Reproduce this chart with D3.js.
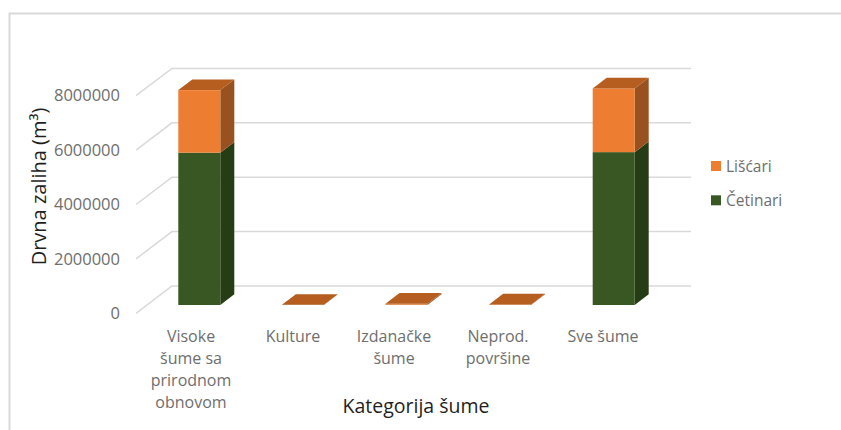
<!DOCTYPE html>
<html>
<head>
<meta charset="utf-8">
<script src="https://cdn.jsdelivr.net/npm/d3@7"></script>
<style>
  html, body { margin: 0; padding: 0; background: #fff; }
  text { font-family: "Open Sans", "Noto Sans", sans-serif; }
</style>
</head>
<body>
<div id="chart"></div>
<script>
const categories = ["Visoke šume sa prirodnom obnovom", "Kulture", "Izdanačke šume", "Neprod. površine", "Sve šume"];
const categoryLines = [["Visoke", "šume sa", "prirodnom", "obnovom"], ["Kulture"], ["Izdanačke", "šume"], ["Neprod.", "površine"], ["Sve šume"]];
const cetinari = [5600000, 5000, 10000, 2000, 5620000];
const liscari = [2300000, 1000, 40000, 18000, 2340000];
const yTicks = [0, 2000000, 4000000, 6000000, 8000000];
const seriesNames = ["Četinari", "Lišćari"];

const width = 841, height = 430;

const rows = categories.map((c, i) => ({ category: c, "Četinari": cetinari[i], "Lišćari": liscari[i] }));
const stacked = d3.stack().keys(seriesNames)(rows);

const front = { "Četinari": "#385723", "Lišćari": "#ED7D31" };
const side = { "Četinari": "#263C14", "Lišćari": "#9A5120" };
const top_face = { "Četinari": "#2F4A1D", "Lišćari": "#B55E20" };

const svg = d3.select("#chart").append("svg")
  .attr("width", width)
  .attr("height", height)
  .style("display", "block");

// frame (only top and left show in the picture)
svg.append("path")
  .attr("d", "M9.5,430V13.5H841")
  .attr("fill", "none")
  .attr("stroke", "#d9d9d9")
  .attr("stroke-width", 2);

const x = d3.scaleBand().domain(categories).range([178.3, 634.7]).paddingInner(0.5946).paddingOuter(0);
const y = d3.scaleLinear().domain([0, 8000000]).range([305, 87.4]);

// 3d offsets
const depthX = 14, depthY = 10.7;

// back wall gridlines + floor diagonals
const grid = svg.append("g").attr("fill", "none").attr("stroke", "#d9d9d9").attr("stroke-width", 1.5);
grid.selectAll("path")
  .data(yTicks)
  .join("path")
  .attr("d", d => `M136,${y(d) + 8.3}L172,${y(d) - 19}H691`);

// y axis labels sit at the front end of the diagonals
const yAxis = svg.append("g")
  .attr("transform", "translate(120,8.3)")
  .call(d3.axisLeft(y).tickValues(yTicks).tickFormat(d3.format("d")).tickSize(0).tickPadding(0));
yAxis.select(".domain").remove();
yAxis.selectAll("text").attr("fill", "#6e6e6e").style("font-size", "16.5px");

// bars
const bars = svg.append("g");
stacked.forEach(s => {
  const g = bars.append("g");
  // side
  g.selectAll(".side")
    .data(s)
    .join("path")
    .attr("fill", side[s.key])
    .attr("d", d => {
      const r = x(d.data.category) + x.bandwidth();
      return `M${r},${y(d[0])}L${r + depthX},${y(d[0]) - depthY}V${y(d[1]) - depthY}L${r},${y(d[1])}Z`;
    });
  // front
  g.selectAll(".front")
    .data(s)
    .join("rect")
    .attr("fill", front[s.key])
    .attr("x", d => x(d.data.category))
    .attr("y", d => y(d[1]))
    .attr("width", x.bandwidth())
    .attr("height", d => y(d[0]) - y(d[1]));
});

// top face only for the upper series
bars.append("g").selectAll("path")
  .data(stacked[1])
  .join("path")
  .attr("fill", top_face["Lišćari"])
  .attr("d", d => {
    const l = x(d.data.category), t = y(d[1]);
    return `M${l},${t}L${l + depthX},${t - depthY}H${l + x.bandwidth() + depthX}L${l + x.bandwidth()},${t}Z`;
  });

// category labels, nudged a little where the perspective moved them
const labelX = d3.scalePoint().domain(categories).range([191, 603]);
const labelNudge = [0, -1, -3, -2, 0];
const labels = svg.append("g").attr("text-anchor", "middle").attr("fill", "#6e6e6e").style("font-size", "16px");
labels.selectAll("text")
  .data(categories)
  .join("text")
  .attr("transform", (d, i) => `translate(${labelX(d) + labelNudge[i]},342)`)
  .each(function(d, i) {
    d3.select(this).selectAll("tspan")
      .data(categoryLines[i])
      .join("tspan")
      .attr("x", 0)
      .attr("y", (t, j) => j * 22)
      .text(t => t);
  });

// axis titles
svg.append("text")
  .attr("x", 416)
  .attr("y", 413)
  .attr("text-anchor", "middle")
  .attr("fill", "#1f1f1f")
  .style("font-size", "19.5px")
  .text("Kategorija šume");

svg.append("text")
  .attr("transform", "translate(46,186.5) rotate(-90)")
  .attr("text-anchor", "middle")
  .attr("fill", "#1f1f1f")
  .style("font-size", "20px")
  .text("Drvna zaliha (m³)");

// legend
const legend = svg.append("g").selectAll("g")
  .data(["Lišćari", "Četinari"])
  .join("g")
  .attr("transform", (d, i) => `translate(711,${161 + i * 34.3})`);

legend.append("rect")
  .attr("width", 10)
  .attr("height", 10)
  .attr("fill", d => front[d]);

legend.append("text")
  .attr("x", 15)
  .attr("y", 10.5)
  .attr("fill", "#6e6e6e")
  .style("font-size", "15.5px")
  .text(d => d);
</script>
</body>
</html>
